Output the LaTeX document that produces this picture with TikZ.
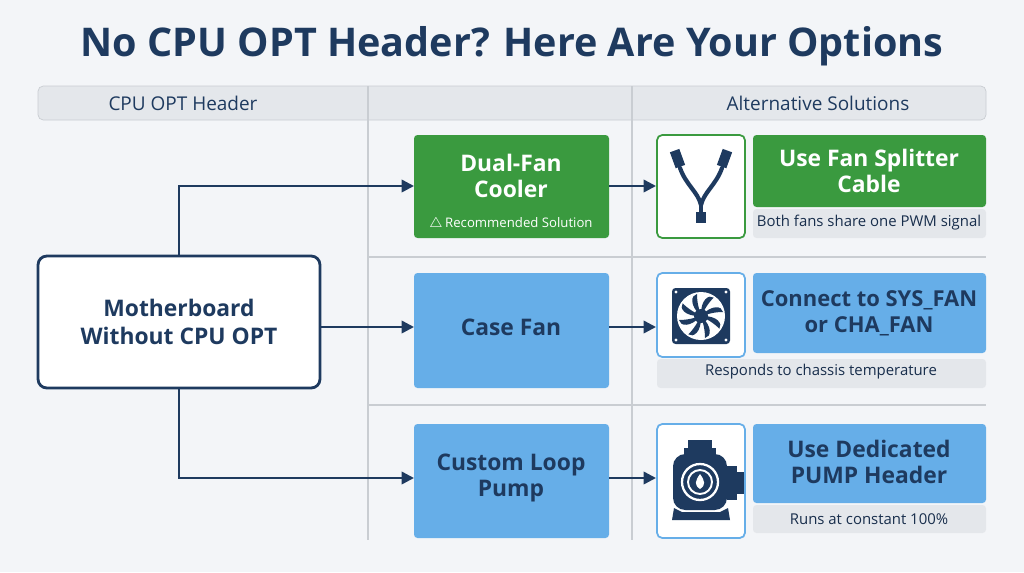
\documentclass[tikz,border=0pt]{standalone}
\usepackage{fontspec}
\setmainfont{Open Sans}
\usetikzlibrary{positioning, arrows.meta, calc}
\definecolor{navy}{HTML}{1E3A5F}
\definecolor{bggray}{HTML}{F3F5F8}
\definecolor{hdrgray}{HTML}{E4E7EB}
\definecolor{okgreen}{HTML}{3A9A3F}
\definecolor{skyblue}{HTML}{66AEE8}
\definecolor{linegray}{HTML}{C9CDD2}
\begin{document}
\begin{tikzpicture}[
    x=0.02cm, y=-0.02cm,
    >={Triangle[length=7pt,width=7pt]},
    % Styles
    box/.style={ % Coloured option box
        rounded corners=2pt,
        draw=none,
        font=\fontsize{13}{15}\selectfont\bfseries,
        align=center,
        inner sep=0pt
    },
    iconbox/.style={ % White frame around an icon
        rounded corners=3pt,
        fill=white,
        line width=1pt
    },
    note/.style={ % Gray caption strip
        fill=hdrgray,
        draw=none,
        rounded corners=2pt
    },
    arrow/.style={
        ->,
        navy,
        line width=1.4pt
    },
    sep/.style={
        linegray,
        line width=0.7pt
    }
]
    % Background and title
    \fill[bggray] (0,0) rectangle (1024,572);
    \node[font=\fontsize{22.5}{26}\selectfont\bfseries, text=navy] (title) at (512,46) {No CPU OPT Header? Here Are Your Options};

    % Header bar
    \filldraw[fill=hdrgray, draw=linegray, rounded corners=3pt] (38,86) rectangle (986,120);
    \node[font=\fontsize{10.8}{12}\selectfont, text=navy] (hleft) at (183,103) {CPU OPT Header};
    \node[font=\fontsize{10.8}{12}\selectfont, text=navy] (hright) at (818,103) {Alternative Solutions};

    % Grid lines
    \draw[sep] (368,86) -- (368,540);
    \draw[sep] (632,86) -- (632,540);
    \draw[sep] (368,257) -- (986,257);
    \draw[sep] (368,405) -- (986,405);

    % Source node
    \node[draw=navy, fill=white, line width=1.6pt, rounded corners=5pt, minimum width=5.64cm, minimum height=2.64cm,
          align=center, font=\fontsize{13}{16}\selectfont\bfseries, text=navy] (mb) at (179,322) {Motherboard\\Without CPU OPT};

    % Option nodes
    \fill[okgreen, rounded corners=2pt] (414,135) rectangle (609,238);
    \node[box, text=white] (dual) at (511,176) {Dual-Fan\\Cooler};
    \node[text=white, font=\fontsize{7.5}{9}\selectfont] (rec) at (511,224) {\fontsize{8.5}{10}\selectfont$\triangle$\,\fontsize{7.5}{9}\selectfont Recommended Solution};
    \coordinate (dualw) at (414,186);
    \coordinate (duale) at (609,186);

    \fill[skyblue, rounded corners=2pt] (414,273) rectangle (609,388);
    \node[box, text=navy] (case) at (511,327) {Case Fan};
    \coordinate (casew) at (414,327);
    \coordinate (casee) at (609,327);

    \fill[skyblue, rounded corners=2pt] (414,424) rectangle (609,538);
    \node[box, text=navy] (pumpbox) at (511,478) {Custom Loop\\Pump};
    \coordinate (pumpw) at (414,478);
    \coordinate (pumpe) at (609,478);

    % Icon frames
    \draw[iconbox, draw=okgreen] (657,135) rectangle (745,238);
    \draw[iconbox, draw=skyblue] (657,273) rectangle (745,357);
    \draw[iconbox, draw=skyblue] (657,424) rectangle (745,538);
    \coordinate (split) at (656,186);
    \coordinate (fan) at (656,327);
    \coordinate (pump) at (656,478);

    % Splitter cable icon
    \begin{scope}[navy, line width=2.4pt, line cap=round]
        \draw (680,168) .. controls (686,185) and (698,192) .. (701,205);
        \draw (722,168) .. controls (716,185) and (704,192) .. (701,205);
        \draw (701,205) -- (701,215);
        \fill[rotate around={20:(678,160)}] (673,150) rectangle (683,167);
        \fill[rotate around={-20:(724,160)}] (719,150) rectangle (729,167);
        \fill (696,212) rectangle (706,223);
    \end{scope}

    % Fan icon
    \fill[navy, rounded corners=2pt] (672,288) rectangle (730,344);
    \fill[white] (701,316) circle (24);
    \fill[navy] (701,316) circle (7);
    \foreach \a in {0,45,...,315}
        \fill[navy, rotate around={\a:(701,316)}] (701,316) .. controls (712,304) and (722,306) .. (723,312) .. controls (714,312) and (708,314) .. (701,316);
    \foreach \cx/\cy in {676/292, 726/292, 676/340, 726/340}
        \fill[white] (\cx,\cy) circle (1.6);

    % Pump icon
    \fill[navy] (688,440) rectangle (712,448);
    \fill[navy] (684,448) rectangle (716,454);
    \fill[navy, rounded corners=7pt] (673,454) rectangle (727,510);
    \fill[navy] (727,466) rectangle (737,500);
    \fill[navy] (737,472) rectangle (744,494);
    \fill[navy] (674,508) -- (682,512) -- (720,512) -- (728,508) -- (730,520) -- (672,520) -- cycle;
    \draw[white, line width=1.3pt] (700,482) circle (18);
    \draw[white, line width=1.1pt] (700,482) circle (12);
    \fill[white] (700,474) .. controls (705,481) and (706,485) .. (700,489) .. controls (694,485) and (695,481) .. (700,474);

    % Solution nodes
    \fill[okgreen, rounded corners=2pt] (753,135) rectangle (986,207);
    \node[box, text=white] (sol1) at (869,171) {Use Fan Splitter\\Cable};
    \fill[note] (753,209) rectangle (986,238);
    \node[font=\fontsize{8.5}{10}\selectfont, text=navy!80!black] (note1) at (869,223) {Both fans share one PWM signal};

    \fill[skyblue, rounded corners=2pt] (753,273) rectangle (986,353);
    \node[box, text=navy, font=\fontsize{12.5}{15}\selectfont\bfseries] (sol2) at (869,313) {Connect to SYS\_FAN\\or CHA\_FAN};
    \fill[note] (657,359) rectangle (986,388);
    \node[font=\fontsize{8.5}{10}\selectfont, text=navy!80!black] (note2) at (821,372) {Responds to chassis temperature};

    \fill[skyblue, rounded corners=2pt] (753,424) rectangle (986,503);
    \node[box, text=navy] (sol3) at (869,462) {Use Dedicated\\PUMP Header};
    \fill[note] (753,505) rectangle (986,533);
    \node[font=\fontsize{8.5}{10}\selectfont, text=navy!80!black] (note3) at (869,519) {Runs at constant 100\%};

    % Connectors
    \draw[arrow] (mb.north) |- (dualw);
    \draw[arrow] (mb.east |- casew) -- (casew);
    \draw[arrow] (mb.south) |- (pumpw);
    \draw[arrow] (duale) -- (split);
    \draw[arrow] (casee) -- (fan);
    \draw[arrow] (pumpe) -- (pump);
\end{tikzpicture}
\end{document}
